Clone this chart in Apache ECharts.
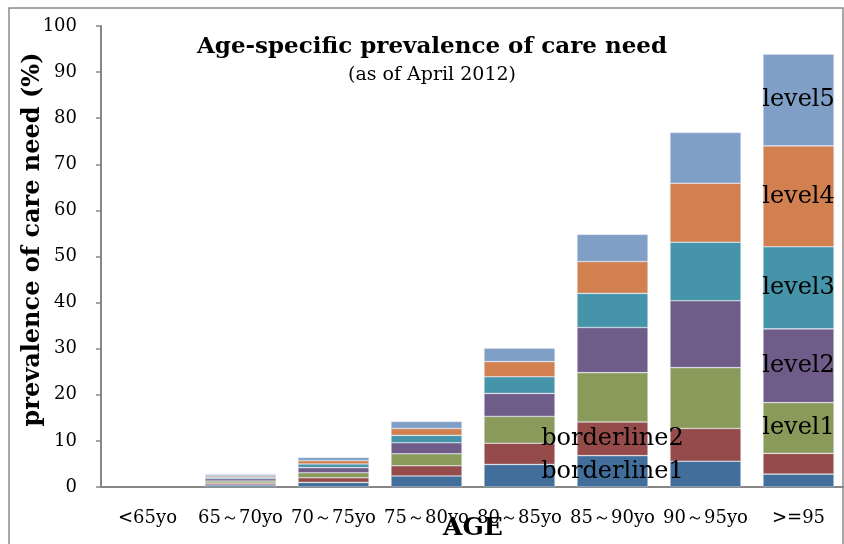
<!DOCTYPE html>
<html>
<head>
<meta charset="utf-8">
<script src="https://cdn.jsdelivr.net/npm/echarts@6/dist/echarts.min.js"></script>
<style>
  html, body { margin: 0; padding: 0; background: #fff; }
  #main { width: 844px; height: 544px; }
</style>
</head>
<body>
<div id="main"></div>
<script>
var categories = ['<65yo', '65～70yo', '70～75yo', '75～80yo', '80～85yo', '85～90yo', '90～95yo', '>=95'];
var yTicks = [0, 10, 20, 30, 40, 50, 60, 70, 80, 90, 100];

// prevalence (%) for each care level, per age group
var borderline1 = [0, 0.45, 1.0, 2.4, 4.9, 6.8, 5.6, 2.8];
var borderline2 = [0, 0.4, 1.0, 2.2, 4.6, 7.3, 7.1, 4.5];
var level1 = [0, 0.45, 1.1, 2.6, 5.8, 10.7, 13.2, 11.0];
var level2 = [0, 0.5, 1.1, 2.4, 5.0, 9.8, 14.5, 16.0];
var level3 = [0, 0.3, 0.8, 1.6, 3.6, 7.4, 12.7, 17.8];
var level4 = [0, 0.3, 0.7, 1.5, 3.3, 6.9, 12.8, 21.9];
var level5 = [0, 0.3, 0.7, 1.5, 2.9, 5.9, 11.0, 19.9];

var seriesNames = ['borderline1', 'borderline2', 'level1', 'level2', 'level3', 'level4', 'level5'];
var seriesData = [borderline1, borderline2, level1, level2, level3, level4, level5];
var colors = ['#426E9B', '#944B49', '#8A9A5A', '#6F5C89', '#4594A9', '#D2804F', '#809FC6'];
// which bar carries the series name as a label
var labelIndex = [5, 5, 7, 7, 7, 7, 7];

var myChart = echarts.init(document.getElementById('main'));

var series = [];
for (var i = 0; i < seriesNames.length; i++) {
	var data = [];
	for (var j = 0; j < seriesData[i].length; j++) {
		var item = { value : seriesData[i][j] };
		if (j == labelIndex[i]) {
			item.label = { show : true };
		}
		if (seriesData[i][j] == 0) {
			item.itemStyle = { borderWidth : 0 };
		}
		data.push(item);
	}
	series.push({
		name : seriesNames[i],
		type : 'bar',
		stack : 'total',
		barWidth : 71,
		data : data,
		itemStyle : {
			color : colors[i],
			borderColor : 'rgba(225,230,240,0.7)',
			borderWidth : 0.6
		},
		label : {
			show : false,
			position : 'inside',
			formatter : '{a}',
			color : '#000',
			fontFamily : 'DejaVu Serif',
			fontSize : 24
		}
	});
}

var option = {
	animation : false,
	backgroundColor : '#fff',
	graphic : [ {
		type : 'rect',
		shape : { x : 9, y : 8, width : 834, height : 600 },
		style : { fill : 'none', stroke : '#8a8a8a', lineWidth : 1.5 }
	} ],
	title : {
		text : 'Age-specific prevalence of care need',
		subtext : '(as of April 2012)',
		left : 427,
		top : 31,
		textAlign : 'center',
		itemGap : 7,
		textStyle : {
			fontFamily : 'DejaVu Serif',
			fontWeight : 'bold',
			fontSize : 23,
			color : '#000'
		},
		subtextStyle : {
			fontFamily : 'DejaVu Serif',
			fontSize : 19,
			color : '#000'
		}
	},
	grid : {
		left : 101,
		right : -1,
		top : 26,
		bottom : 57,
		outerBoundsMode : 'none'
	},
	xAxis : {
		type : 'category',
		data : categories,
		name : 'AGE',
		nameLocation : 'middle',
		nameGap : 29,
		nameMoveOverlap : false,
		nameTextStyle : {
			fontFamily : 'DejaVu Serif',
			fontWeight : 'bold',
			fontSize : 25,
			color : '#000'
		},
		axisLine : { lineStyle : { color : '#868686', width : 2 } },
		axisTick : { show : false },
		axisLabel : {
			interval : 0,
			margin : 22,
			fontFamily : 'DejaVu Serif',
			fontSize : 18,
			color : '#000'
		}
	},
	yAxis : {
		type : 'value',
		min : yTicks[0],
		max : yTicks[yTicks.length - 1],
		interval : 10,
		name : 'prevalence of care need (%)',
		nameLocation : 'middle',
		nameGap : 56,
		nameMoveOverlap : false,
		nameTextStyle : {
			fontFamily : 'DejaVu Serif',
			fontWeight : 'bold',
			fontSize : 24,
			color : '#000',
			padding : [0, 0, 0, 34]
		},
		axisLine : { show : true, lineStyle : { color : '#868686', width : 2 } },
		axisTick : { show : true, length : 5, lineStyle : { color : '#868686', width : 1.5 } },
		splitLine : { show : false },
		axisLabel : {
			margin : 24,
			fontFamily : 'DejaVu Serif',
			fontSize : 18,
			color : '#000'
		}
	},
	series : series
};
myChart.setOption(option);
</script>
</body>
</html>
